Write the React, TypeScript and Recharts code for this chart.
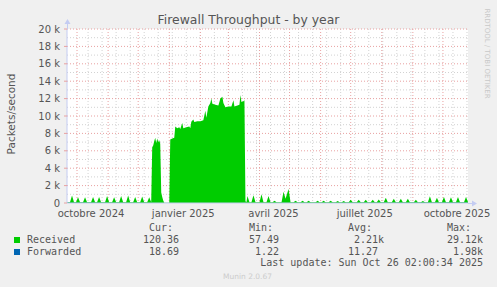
import React from "react";
import { ComposedChart, Area, XAxis, YAxis, CartesianGrid } from "recharts";

// x = days since 2024-09-21 (400-day munin "year" view)
const tickDays = [24, 116, 206, 297, 389];
const tickLabels = ["octobre 2024", "janvier 2025", "avril 2025", "juillet 2025", "octobre 2025"];
const monthStartDays = [10, 41, 71, 102, 133, 161, 192, 222, 253, 283, 314, 345, 375];
const minorDays = [21, 35, 49, 63, 77, 91, 105, 119, 133, 147, 161, 175, 189, 203, 217, 231, 245, 259, 273, 287, 301, 315, 329, 343, 357, 371, 385, 399];
const yTicks = [0, 2000, 4000, 6000, 8000, 10000, 12000, 14000, 16000, 18000, 20000];
const yMinor = [1000, 3000, 5000, 7000, 9000, 11000, 13000, 15000, 17000, 19000];

const receivedAutumn: [number, number][] = [
  [0, 100], [3, 100], [5, 870], [7, 100], [9, 100], [11, 650], [13, 100], [16, 100], [18, 650], [20, 100],
  [24, 100], [26, 700], [28, 100], [30, 100], [32, 700], [34, 100], [38, 100], [40, 800], [42, 100],
  [45, 100], [47, 650], [49, 100], [52, 100], [54, 800], [56, 100], [59, 100], [61, 850], [63, 100],
  [66, 100], [68, 700], [70, 100], [73, 100], [75, 750], [77, 100], [80, 100], [82, 650], [84, 100],
];
const receivedWinter: [number, number][] = [
  [85, 6400], [86, 6600], [87, 7100], [88, 7500], [89, 6900], [90, 7400], [91, 7000], [92, 7200], [93, 6800],
  [94, 1200], [95, 700], [96, 300], [97, 30], [102, 30], [103, 7300], [105, 7400], [107, 7500], [108, 8800],
  [110, 8600], [112, 8700], [113, 8500], [115, 9200], [116, 8600], [119, 8700], [122, 8800], [123, 8600],
  [124, 9350], [126, 9600], [127, 9300], [130, 9400], [133, 9400], [136, 9500], [138, 10600], [139, 9800],
  [141, 11100], [143, 11500], [144, 12000], [145, 11400], [148, 11300], [151, 11200], [153, 12000],
  [155, 12200], [156, 11500], [158, 11000], [161, 11100], [164, 11100], [166, 11800], [167, 11100],
  [170, 11200], [172, 11300], [173, 12400], [174, 11600], [176, 11700], [177, 11800], [178, 200],
];
const receivedSummer: [number, number][] = [
  [179, 100], [180, 800], [182, 100], [184, 100], [186, 900], [188, 100], [192, 100], [194, 1000], [196, 100],
  [199, 100], [201, 800], [203, 100], [205, 100], [207, 250], [209, 100], [214, 100], [216, 1300], [218, 500],
  [221, 1600], [223, 100], [226, 100], [228, 250], [230, 100], [233, 100], [235, 250], [237, 100],
  [239, 100], [241, 250], [243, 100], [248, 100], [250, 250], [252, 100], [254, 100], [256, 250], [258, 100],
  [261, 100], [263, 250], [265, 100], [268, 100], [270, 230], [272, 100], [274, 100], [276, 230], [278, 100],
  [281, 100], [283, 380], [285, 100], [289, 100], [291, 380], [293, 100], [296, 100], [298, 380], [300, 100],
  [303, 100], [305, 380], [307, 100], [309, 100], [311, 400], [313, 100], [316, 100], [318, 610], [320, 100],
  [324, 100], [326, 500], [328, 100], [331, 100], [333, 500], [335, 100], [338, 100], [340, 500], [342, 100],
  [346, 100], [348, 380], [350, 100], [353, 100], [355, 230], [357, 100], [360, 100], [362, 770], [364, 100],
  [367, 100], [369, 610], [371, 100], [374, 100], [376, 700], [378, 100], [381, 100], [383, 650], [385, 100],
  [388, 100], [390, 700], [392, 100], [396, 100], [398, 700], [400, 120],
];
const forwardedPoints: [number, number][] = [[0, 15], [103, 12], [177, 9], [400, 18.69]];

const legendNames = ["Received", "Forwarded"];
const legendColors = ["#00CC00", "#0066B3"];
const curValues = ["120.36", "18.69"];
const minValues = ["57.49", "1.22"];
const avgValues = ["2.21k", "11.27"];
const maxValues = ["29.12k", "1.98k"];

const rowsMap = new Map<number, { day: number; received: number | null; forwarded: number | null }>();
[...receivedAutumn, ...receivedWinter, ...receivedSummer].forEach(([d, v]) => {
  rowsMap.set(d, { day: d, received: v, forwarded: null });
});
forwardedPoints.forEach(([d, v]) => {
  const r = rowsMap.get(d);
  if (r) r.forwarded = v;
  else rowsMap.set(d, { day: d, received: null, forwarded: v });
});
const data = Array.from(rowsMap.values()).sort((a, b) => a.day - b.day);

const SANS = "'DejaVu Sans', Verdana, sans-serif";
const MONO = "'DejaVu Sans Mono', monospace";
const TXT = "#555555";
const AXIS = "#c4ccf2";

export default function App() {
  return (
    <div style={{ position: "absolute", left: 0, top: 0, width: 497, height: 287, background: "#F0F0F0", overflow: "hidden" }}>
      <ComposedChart width={497} height={287} data={data} margin={{ top: 29, right: 29, bottom: 64, left: 0 }}>
        <CartesianGrid fill="#ffffff" stroke="#d2d2d2" strokeDasharray="1 2" horizontalValues={yMinor} verticalValues={minorDays} />
        <CartesianGrid fill="none" stroke="#e8a0a0" strokeDasharray="1 2" horizontalValues={yTicks.slice(1)} verticalValues={monthStartDays} />
        <XAxis
          dataKey="day"
          type="number"
          domain={[0, 400]}
          ticks={tickDays}
          interval={0}
          tickFormatter={(v: number) => tickLabels[tickDays.indexOf(v)]}
          tickLine={false}
          tickSize={3}
          tickMargin={4}
          height={20}
          axisLine={{ stroke: AXIS }}
          tick={{ fontSize: 10, fill: TXT, fontFamily: SANS }}
          allowDataOverflow
        />
        <YAxis
          type="number"
          domain={[0, 20000]}
          ticks={yTicks}
          interval={0}
          width={67}
          tickSize={3}
          tickMargin={4}
          tickLine={{ stroke: "#e8a0a0" }}
          axisLine={{ stroke: AXIS }}
          tickFormatter={(v: number) => (v === 0 ? "0" : `${v / 1000} k`)}
          tick={{ fontSize: 10, fill: TXT, fontFamily: SANS }}
          allowDataOverflow
        />
        <Area
          type="linear"
          dataKey="received"
          stroke="none"
          fill="#00CC00"
          fillOpacity={1}
          connectNulls
          isAnimationActive={false}
          dot={false}
          activeDot={false}
        />
        <Area
          type="linear"
          dataKey="forwarded"
          stroke="none"
          fill="#0066B3"
          fillOpacity={1}
          connectNulls
          isAnimationActive={false}
          dot={false}
          activeDot={false}
        />
      </ComposedChart>
      <svg width={497} height={287} style={{ position: "absolute", left: 0, top: 0, pointerEvents: "none" }}>
        {/* axis extensions and arrows */}
        <line x1={67.5} y1={29} x2={67.5} y2={22} stroke={AXIS} />
        <polygon points="64.5,24 70.5,24 67.5,19" fill={AXIS} />
        <line x1={468} y1={203.5} x2={473} y2={203.5} stroke={AXIS} />
        <polygon points="472,200.5 472,206.5 477,203.5" fill={AXIS} />

        <text x={248.5} y={24} textAnchor="middle" fontFamily={SANS} fontSize={12.4} fill={TXT}>
          Firewall Throughput - by year
        </text>
        <text x={15} y={114} transform="rotate(-90 15 114)" textAnchor="middle" fontFamily={SANS} fontSize={10.5} fill={TXT}>
          Packets/second
        </text>
        <text x={485} y={53.5} transform="rotate(90 485 53.5)" textAnchor="middle" fontFamily={SANS} fontSize={7} fill="#c8c8c8">
          RRDTOOL / TOBI OETIKER
        </text>

        <g fontFamily={MONO} fontSize={10} fill={TXT}>
          <text x={149} y={231}>Cur:</text>
          <text x={249} y={231}>Min:</text>
          <text x={348} y={231}>Avg:</text>
          <text x={447} y={231}>Max:</text>
          {legendNames.map((name, i) => {
            const y = 243 + i * 12;
            return (
              <g key={name}>
                <rect x={14} y={y - 6} width={6} height={6} fill={legendColors[i]} />
                <text x={27} y={y}>{name}</text>
                <text x={179} y={y} textAnchor="end">{curValues[i]}</text>
                <text x={279} y={y} textAnchor="end">{minValues[i]}</text>
                <text x={avgValues[i].endsWith("k") ? 384 : 378} y={y} textAnchor="end">{avgValues[i]}</text>
                <text x={483} y={y} textAnchor="end">{maxValues[i]}</text>
              </g>
            );
          })}
          <text x={483} y={266} textAnchor="end">Last update: Sun Oct 26 02:00:34 2025</text>
        </g>
        <text x={247.5} y={279} textAnchor="middle" fontFamily={SANS} fontSize={7.5} fill="#cccccc">
          Munin 2.0.67
        </text>
      </svg>
    </div>
  );
}
